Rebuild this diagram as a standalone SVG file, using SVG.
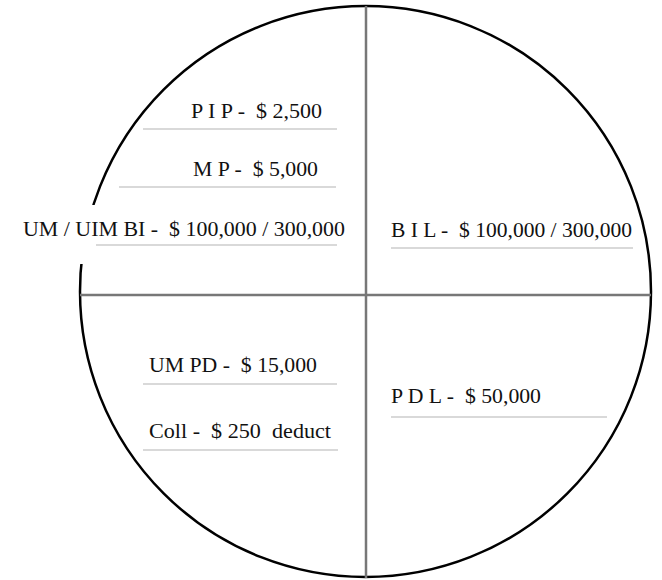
<svg xmlns="http://www.w3.org/2000/svg" width="662" height="580" viewBox="0 0 662 580">
<style>
.lbl{font-family:"Liberation Serif","Times New Roman",serif;font-size:21px;fill:#111;white-space:pre}
.ul{stroke:#cccccc;stroke-width:1.5}
.axis{stroke:#777777;stroke-width:2.5}
</style>
<rect width="662" height="580" fill="#ffffff"/>
<circle cx="365.5" cy="291.5" r="285.5" fill="none" stroke="#000" stroke-width="2.5"/>
<g id="axes">
<line class="axis" x1="366" y1="6" x2="366" y2="578"/>
<line class="axis" x1="80" y1="295" x2="651" y2="295"/>
</g>
<g id="pip">
<text class="lbl" x="191" y="118" textLength="131" lengthAdjust="spacingAndGlyphs" xml:space="preserve">P I P -  $ 2,500</text>
<line class="ul" x1="143" y1="129" x2="337" y2="129"/>
</g>
<g id="mp">
<text class="lbl" x="193" y="176" textLength="125" lengthAdjust="spacingAndGlyphs" xml:space="preserve">M P -  $ 5,000</text>
<line class="ul" x1="119" y1="187" x2="336" y2="187"/>
</g>
<g id="umuim">
<rect x="10" y="205" width="345" height="59" fill="#ffffff"/>
<text class="lbl" x="23" y="236" textLength="322" lengthAdjust="spacingAndGlyphs" xml:space="preserve">UM / UIM BI -  $ 100,000 / 300,000</text>
<line class="ul" x1="96" y1="245" x2="337" y2="245"/>
</g>
<g id="bil">
<text class="lbl" x="391" y="237" textLength="241" lengthAdjust="spacingAndGlyphs" xml:space="preserve">B I L -  $ 100,000 / 300,000</text>
<line class="ul" x1="391" y1="248" x2="633" y2="248"/>
</g>
<g id="umpd">
<text class="lbl" x="149" y="372" textLength="168" lengthAdjust="spacingAndGlyphs" xml:space="preserve">UM PD -  $ 15,000</text>
<line class="ul" x1="143" y1="384" x2="337" y2="384"/>
</g>
<g id="coll">
<text class="lbl" x="149" y="438" textLength="182" lengthAdjust="spacingAndGlyphs" xml:space="preserve">Coll -  $ 250  deduct</text>
<line class="ul" x1="143" y1="450" x2="338" y2="450"/>
</g>
<g id="pdl">
<text class="lbl" x="391" y="403" textLength="150" lengthAdjust="spacingAndGlyphs" xml:space="preserve">P D L -  $ 50,000</text>
<line class="ul" x1="391" y1="417" x2="607" y2="417"/>
</g>
</svg>
